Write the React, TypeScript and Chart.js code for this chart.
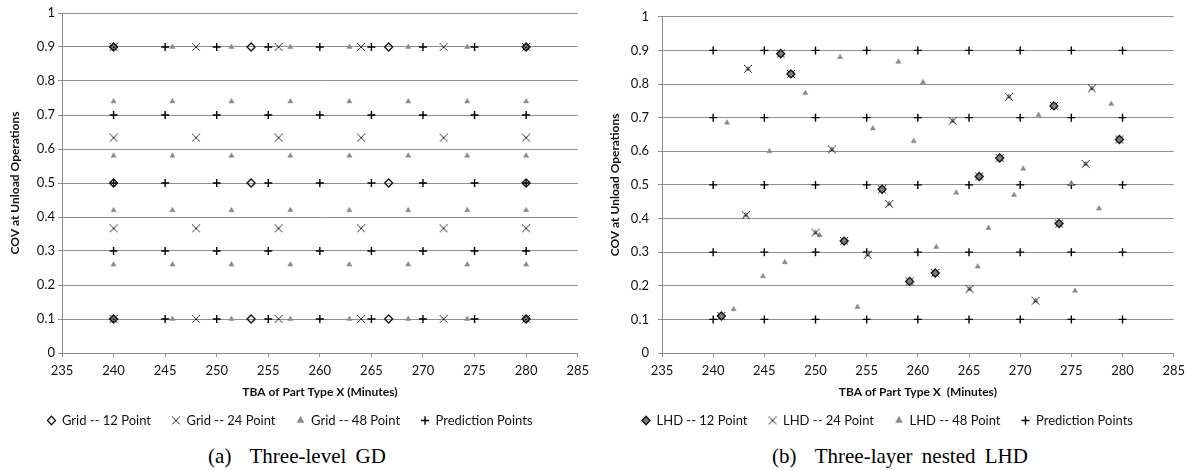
import React, { useEffect, useRef } from "react";
import { Chart, registerables } from "chart.js";

Chart.register(...registerables);

// ---------- DATA ----------
// Panel (a): Three-level grid design
const gdPredX = [240, 245, 250, 255, 260, 265, 270, 275, 280];
const gdPredY = [0.1, 0.3, 0.5, 0.7, 0.9];
const gd12X = [240, 253.33, 266.67, 280];
const gd12Y = [0.1, 0.5, 0.9];
const gd24X = [240, 248, 256, 264, 272, 280];
const gd24Y = [0.1, 0.3667, 0.6333, 0.9];
const gd48X = [240, 245.71, 251.43, 257.14, 262.86, 268.57, 274.29, 280];
const gd48Y = [0.1, 0.26, 0.42, 0.58, 0.74, 0.9];

// Panel (b): Three-layer nested LHD
const lhd12X = [240.8, 246.6, 247.6, 252.8, 256.5, 259.2, 261.7, 266.0, 268.0, 273.3, 273.8, 279.7];
const lhd12Y = [0.11, 0.89, 0.83, 0.333, 0.487, 0.213, 0.238, 0.525, 0.58, 0.735, 0.385, 0.635];
const lhd24ExtraX = [243.2, 243.4, 250.0, 251.6, 255.1, 257.2, 263.4, 265.05, 268.9, 271.5, 276.4, 277.0];
const lhd24ExtraY = [0.41, 0.845, 0.358, 0.605, 0.292, 0.443, 0.69, 0.19, 0.762, 0.155, 0.562, 0.787];
const lhd48ExtraX = [241.35, 242.0, 244.86, 245.5, 247.0, 249.0, 250.4, 252.4, 254.1, 255.6, 258.1, 259.6, 260.5, 261.8, 263.75, 265.85, 266.9, 269.4, 270.3, 271.8, 275.0, 275.36, 277.7, 278.9];
const lhd48ExtraY = [0.685, 0.13, 0.228, 0.6, 0.27, 0.773, 0.35, 0.88, 0.137, 0.668, 0.866, 0.63, 0.805, 0.315, 0.477, 0.257, 0.372, 0.47, 0.548, 0.708, 0.505, 0.185, 0.43, 0.741];
const lhdPredX = [240, 245, 250, 255, 260, 265, 270, 275, 280];
const lhdPredY = [0.1, 0.3, 0.5, 0.7, 0.9];

const gdLabels = ["Grid -- 12 Point", "Grid -- 24 Point", "Grid -- 48 Point", "Prediction Points"];
const lhdLabels = ["LHD -- 12 Point", "LHD -- 24 Point", "LHD -- 48 Point", "Prediction Points"];

const xAxisTitleA = "TBA of Part Type X (Minutes)";
const xAxisTitleB = "TBA of Part Type X  (Minutes)";
const yAxisTitle = "COV at Unload Operations";

// ---------- helpers ----------
const gridPts = (xs: number[], ys: number[]) => {
  const out: { x: number; y: number }[] = [];
  ys.forEach((y) => xs.forEach((x) => out.push({ x, y })));
  return out;
};
const pairPts = (xs: number[], ys: number[]) => xs.map((x, i) => ({ x, y: ys[i] }));

function makeDottedX(): HTMLCanvasElement {
  const c = document.createElement("canvas");
  c.width = 10;
  c.height = 10;
  const g = c.getContext("2d")!;
  for (let i = 1; i <= 8; i++) {
    g.fillStyle = i % 2 ? "#1a0e0e" : "#6a4a4a";
    g.fillRect(i, i, 1, 1);
    g.fillRect(9 - i, i, 1, 1);
  }
  return c;
}

const GRID = "#8f8f8f";
const FONT = "Lato";

type PanelCfg = {
  datasets: any[];
  xTitle: string;
  yWidth: number;
  yTickPad: number;
  yTitlePad: number;
  padRight: number;
};

function buildConfig(cfg: PanelCfg): any {
  return {
    type: "scatter",
    data: { datasets: cfg.datasets },
    options: {
      animation: false,
      responsive: false,
      devicePixelRatio: 1,
      layout: { padding: { left: 0, right: cfg.padRight, top: 13, bottom: 3 } },
      plugins: {
        tooltip: { enabled: false },
        legend: {
          position: "bottom",
          labels: {
            usePointStyle: true,
            boxHeight: 6,
            pointStyleWidth: 8,
            padding: 21,
            color: "#111",
            font: { family: FONT, size: 13 },
          },
        },
      },
      scales: {
        x: {
          type: "linear",
          min: 235,
          max: 285,
          ticks: { stepSize: 5, color: "#111", font: { family: FONT, size: 13 }, padding: 6, maxRotation: 0 },
          grid: { drawOnChartArea: false, drawTicks: true, tickLength: 4, color: GRID },
          border: { display: true, color: GRID },
          title: {
            display: true,
            text: cfg.xTitle,
            color: "#111",
            font: { family: FONT, size: 12, weight: "bold" },
            padding: { top: 0, bottom: -6 },
          },
          afterFit: (s: any) => {
            s.height = 40;
          },
        },
        y: {
          type: "linear",
          min: 0,
          max: 1,
          ticks: {
            stepSize: 0.1,
            color: "#111",
            font: { family: FONT, size: 13 },
            padding: cfg.yTickPad,
            callback: (v: number) => String(Number(v.toFixed(1))),
          },
          grid: { color: GRID, tickLength: 4, lineWidth: 1 },
          border: { display: true, color: GRID },
          title: {
            display: true,
            text: yAxisTitle,
            color: "#111",
            font: { family: FONT, size: 12, weight: "bold" },
            padding: { top: cfg.yTitlePad, bottom: 0 },
          },
          afterFit: (s: any) => {
            s.width = cfg.yWidth;
          },
        },
      },
    },
  };
}

function makeDatasets(
  labels: string[],
  d12: any[],
  d24: any[],
  d48: any[],
  pred: any[],
  xImg: HTMLCanvasElement,
  fill12: string
) {
  return [
    {
      label: labels[0],
      data: d12,
      pointStyle: "rectRot",
      pointRadius: 4,
      borderColor: "#111",
      backgroundColor: fill12,
      pointBorderWidth: 1.3,
      showLine: false,
      clip: false,
    },
    {
      label: labels[1],
      data: d24,
      pointStyle: xImg,
      pointRadius: 5,
      borderColor: "#3a2525",
      backgroundColor: "#3a2525",
      showLine: false,
      clip: false,
    },
    {
      label: labels[2],
      data: d48,
      pointStyle: "triangle",
      pointRadius: 3,
      borderColor: "#8a8a8a",
      backgroundColor: "#8a8a8a",
      pointBorderWidth: 0.5,
      showLine: false,
      clip: false,
    },
    {
      label: labels[3],
      data: pred,
      pointStyle: "cross",
      pointRadius: 4,
      borderColor: "#000",
      backgroundColor: "#000",
      pointBorderWidth: 1.4,
      showLine: false,
      clip: false,
    },
  ];
}

export default function App() {
  const refA = useRef<HTMLCanvasElement>(null);
  const refB = useRef<HTMLCanvasElement>(null);

  useEffect(() => {
    const xImg = makeDottedX();
    const dsA = makeDatasets(
      gdLabels,
      gridPts(gd12X, gd12Y),
      gridPts(gd24X, gd24Y),
      gridPts(gd48X, gd48Y),
      gridPts(gdPredX, gdPredY),
      xImg,
      "rgba(255,255,255,0)"
    );
    const lhd12 = pairPts(lhd12X, lhd12Y);
    const lhd24 = lhd12.concat(pairPts(lhd24ExtraX, lhd24ExtraY));
    const lhd48 = lhd24.concat(pairPts(lhd48ExtraX, lhd48ExtraY));
    const dsB = makeDatasets(lhdLabels, lhd12, lhd24, lhd48, gridPts(lhdPredX, lhdPredY), xImg, "#7d7d7d");

    const a = new Chart(
      refA.current!,
      buildConfig({ datasets: dsA, xTitle: xAxisTitleA, yWidth: 62, yTickPad: 3, yTitlePad: 8, padRight: 15 })
    );
    const b = new Chart(
      refB.current!,
      buildConfig({ datasets: dsB, xTitle: xAxisTitleB, yWidth: 67, yTickPad: 9, yTitlePad: 13, padRight: 11 })
    );
    return () => {
      a.destroy();
      b.destroy();
    };
  }, []);

  const capStyle: React.CSSProperties = {
    position: "absolute",
    top: 443,
    width: 400,
    textAlign: "center",
    fontFamily: "'Liberation Serif', 'DejaVu Serif', serif",
    fontSize: 21,
    color: "#000",
    wordSpacing: 4,
    lineHeight: "26px",
  };

  return (
    <div style={{ position: "fixed", left: 0, top: 0, width: 1191, height: 470, background: "#fff" }}>
      <canvas ref={refA} width={595} height={440} style={{ position: "absolute", left: 0, top: 0 }} />
      <canvas ref={refB} width={596} height={440} style={{ position: "absolute", left: 595, top: 0 }} />
      <div style={{ ...capStyle, left: 297 - 200 }}>(a)&nbsp; Three-level GD</div>
      <div style={{ ...capStyle, left: 900 - 200 }}>(b)&nbsp; Three-layer nested LHD</div>
    </div>
  );
}
